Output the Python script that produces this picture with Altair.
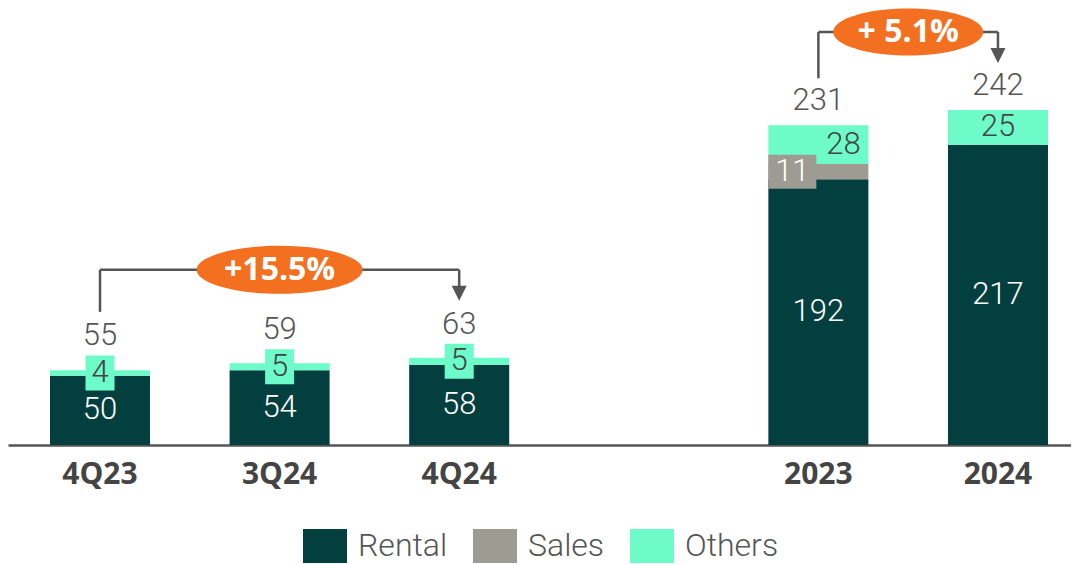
import altair as alt
import pandas as pd

# ---------------- data ----------------
categories = ["4Q23", "3Q24", "4Q24", " ", "2023", "2024"]
bar_cats = ["4Q23", "3Q24", "4Q24", "2023", "2024"]
rental = [50, 54, 58, 192, 217]
sales = [0, 0, 0, 11, 0]
others = [4, 5, 5, 28, 25]
totals = [55, 59, 63, 231, 242]
series = ["Rental", "Sales", "Others"]
growth_from = ["4Q23", "2023"]
growth_to = ["4Q24", "2024"]
growth_text = ["+15.5%", "+ 5.1%"]

# ---------------- style ----------------
series_colors = ["#033f3f", "#9e9b93", "#6dfbc9"]
ORANGE = "#f37021"
LINE = "#555555"
TEXT_GRAY = "#555555"
DARK_TEXT = "#444444"
FONT = "Open Sans"
LIGHT_FONT = "Roboto"

W, H = 1063, 436
P_INNER, P_OUTER, ALIGN = 0.443, 0.181, 0.646
STEP = W / (len(categories) - P_INNER + 2 * P_OUTER)
BANDW = STEP * (1 - P_INNER)
Y_MAX = 315


def period(c):
    return "Q" if "Q" in c else "Y"


rows = []
for i, c in enumerate(bar_cats):
    base = 0
    for s, vals in zip(series, [rental, sales, others]):
        v = vals[i]
        rows.append(dict(cat=c, series=s, value=v, y0=base, y1=base + v,
                         mid=base + v / 2, period=period(c),
                         has_sales=sales[i] > 0))
        base += v
seg = pd.DataFrame(rows)
tot = pd.DataFrame(dict(cat=bar_cats, total=totals,
                        period=[period(c) for c in bar_cats]))

xscale = alt.Scale(domain=categories, paddingInner=P_INNER,
                   paddingOuter=P_OUTER, align=ALIGN)
yscale = alt.Scale(domain=[0, Y_MAX])

x_axis = alt.Axis(title=None, ticks=False, labelFont=FONT, labelFontWeight="bold",
                  labelFontSize=30, labelColor=DARK_TEXT, labelPadding=14,
                  domainColor=LINE, domainWidth=2.5, labelAngle=0, grid=False)


def X(field="cat"):
    return alt.X(f"{field}:N", scale=xscale, sort=categories, axis=x_axis)


def Y(field):
    return alt.Y(f"{field}:Q", scale=yscale, axis=None)


def rect_path(w, h):
    s = max(w, h)
    a, b = w / s, h / s
    return f"M{-a:.4f},{-b:.4f}L{a:.4f},{-b:.4f}L{a:.4f},{b:.4f}L{-a:.4f},{b:.4f}Z", s * s


def ellipse_path(w, h):
    e = h / w
    k = 0.5523
    p = (f"M-1,0C-1,{-k*e:.4f},{-k:.4f},{-e:.4f},0,{-e:.4f}"
         f"C{k:.4f},{-e:.4f},1,{-k*e:.4f},1,0"
         f"C1,{k*e:.4f},{k:.4f},{e:.4f},0,{e:.4f}"
         f"C{-k:.4f},{e:.4f},-1,{k*e:.4f},-1,0Z")
    return p, w * w


legend_path, legend_size = rect_path(44, 34)

bars = alt.Chart(seg[seg.value > 0]).mark_bar().encode(
    x=X(),
    y=Y("y0"), y2="y1:Q",
    color=alt.Color("series:N",
                    scale=alt.Scale(domain=series, range=series_colors),
                    legend=alt.Legend(title=None, orient="none", direction="horizontal",
                                      legendX=295, legendY=515,
                                      symbolType=legend_path, symbolSize=legend_size,
                                      symbolStrokeWidth=0, symbolOpacity=1,
                                      labelFont=LIGHT_FONT, labelFontWeight=300,
                                      labelFontSize=32, labelColor=TEXT_GRAY,
                                      labelOffset=11, columnPadding=25,
                                      labelLimit=300)),
)

txt = dict(font=LIGHT_FONT, fontSize=31, fontWeight=300, baseline="middle", align="center")

rental_lbl = alt.Chart(seg[seg.series == "Rental"]).mark_text(color="white", **txt).encode(
    x=X(), y=Y("mid"), text=alt.Text("value:Q", format=".0f"))

oth = seg[seg.series == "Others"]
oth_small = oth[oth.period == "Q"]
box_p, box_s = rect_path(29, 35)
oth_box = alt.Chart(oth_small).mark_point(shape=box_p, size=box_s, filled=True,
                                          color=series_colors[2], opacity=1,
                                          strokeWidth=0).encode(x=X(), y=Y("mid"))
oth_small_lbl = alt.Chart(oth_small).mark_text(color=DARK_TEXT, **txt).encode(
    x=X(), y=Y("mid"), text=alt.Text("value:Q", format=".0f"))

oth_big = oth[oth.period == "Y"]
oth_right_lbl = alt.Chart(oth_big[oth_big.has_sales]).mark_text(
    color=DARK_TEXT, xOffset=25, **txt).encode(
    x=X(), y=Y("mid"), text=alt.Text("value:Q", format=".0f"))
oth_center_lbl = alt.Chart(oth_big[~oth_big.has_sales]).mark_text(
    color=DARK_TEXT, **txt).encode(
    x=X(), y=Y("mid"), text=alt.Text("value:Q", format=".0f"))

sal = seg[(seg.series == "Sales") & (seg.value > 0)]
sbox_w = 48
sbox_p, sbox_s = rect_path(sbox_w, 34)
s_off = -BANDW / 2 + sbox_w / 2
sal_box = alt.Chart(sal).mark_point(shape=sbox_p, size=sbox_s, filled=True,
                                    color=series_colors[1], opacity=1, strokeWidth=0,
                                    xOffset=s_off).encode(x=X(), y=Y("mid"))
sal_lbl = alt.Chart(sal).mark_text(color="white", xOffset=s_off, **txt).encode(
    x=X(), y=Y("mid"), text=alt.Text("value:Q", format=".0f"))

tot_q = alt.Chart(tot[tot.period == "Q"]).mark_text(color=TEXT_GRAY, dy=-33, **txt).encode(
    x=X(), y=Y("total"), text=alt.Text("total:Q", format=".0f"))
tot_y = alt.Chart(tot[tot.period == "Y"]).mark_text(color=TEXT_GRAY, dy=-24, **txt).encode(
    x=X(), y=Y("total"), text=alt.Text("total:Q", format=".0f"))

layers = [bars, rental_lbl, oth_box, oth_small_lbl, oth_right_lbl, oth_center_lbl,
          sal_box, sal_lbl, tot_q, tot_y]

# ---------------- growth brackets ----------------
tmap = dict(zip(bar_cats, totals))
ell_sizes = [(166, 48), (150, 47)]
for a, b, label, (ew, eh) in zip(growth_from, growth_to, growth_text, ell_sizes):
    lift = 9 if period(a) == "Q" else -1
    start = 48 + lift
    level = 79 + lift
    ta, tb = tmap[a], tmap[b]
    d = pd.DataFrame(dict(cat=[a], cat2=[b], ta=[ta], tb=[tb], tm=[max(ta, tb)],
                          label=[label]))
    base = alt.Chart(d)
    mid_off = (categories.index(b) - categories.index(a)) / 2 * STEP
    left_v = base.mark_rule(color=LINE, strokeWidth=2.5, yOffset=-start,
                            y2Offset=-level).encode(x=X(), y=Y("ta"), y2="tm:Q")
    horiz = base.mark_rule(color=LINE, strokeWidth=2.5, yOffset=-level).encode(
        x=X(), x2="cat2:N", y=Y("tm"))
    right_v = base.mark_rule(color=LINE, strokeWidth=2.5, yOffset=-level,
                             y2Offset=-(start + 12)).encode(x=X("cat2"), y=Y("tm"), y2="tb:Q")
    head = base.mark_point(shape="M-1,-1L1,-1L0,1Z", size=225, filled=True, color=LINE,
                           opacity=1, strokeWidth=0, yOffset=-(start + 7.5)).encode(
        x=X("cat2"), y=Y("tb"))
    ep, es = ellipse_path(ew, eh)
    ell = base.mark_point(shape=ep, size=es, filled=True, color=ORANGE, opacity=1,
                          strokeWidth=0, xOffset=mid_off, yOffset=-level).encode(
        x=X(), y=Y("tm"))
    etxt = base.mark_text(font=FONT, fontSize=32, fontWeight="bold", color="white",
                          baseline="middle", align="center", xOffset=mid_off,
                          yOffset=-level).encode(x=X(), y=Y("tm"), text="label:N")
    layers += [left_v, horiz, right_v, head, ell, etxt]

chart = alt.layer(*layers).properties(
    width=W, height=H,
    background="white",
    autosize=alt.AutoSizeParams(type="none"),
    padding={"left": 0, "top": 1, "right": 0, "bottom": 118},
).configure_view(strokeWidth=0, stroke=None)

chart.save("out.html", embed_options={"renderer": "svg", "actions": False})
